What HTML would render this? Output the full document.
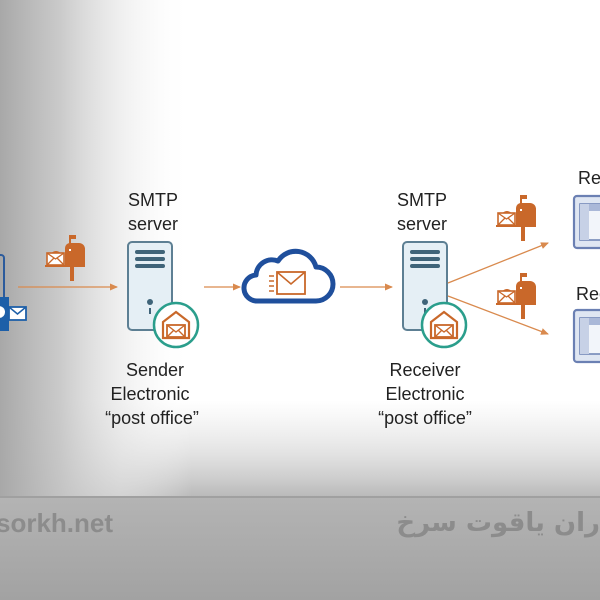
<!DOCTYPE html>
<html><head><meta charset="utf-8"><style>
html,body{margin:0;padding:0;width:600px;height:600px;overflow:hidden;background:#fff;position:relative}
svg{display:block}
text{font-family:"Liberation Sans","DejaVu Sans",sans-serif;fill:#222}
#ar{position:absolute;right:0;top:508px;font:bold 26px "DejaVu Sans",sans-serif;color:#8c8c8c;direction:rtl;white-space:nowrap}
</style></head><body>
<svg width="600" height="600" viewBox="0 0 600 600" xmlns="http://www.w3.org/2000/svg">
<defs>
<linearGradient id="lh" x1="0" x2="1" y1="0" y2="0">
<stop offset="0" stop-color="#a8a8a8"/><stop offset="0.1" stop-color="#c4c4c4" stop-opacity="0.9"/><stop offset="0.2" stop-color="#e4e4e4" stop-opacity="0.6"/><stop offset="0.32" stop-color="#fff" stop-opacity="0"/></linearGradient>
<linearGradient id="lv" x1="0" x2="0" y1="0" y2="1">
<stop offset="0" stop-color="#ddd" stop-opacity="0"/><stop offset="0.5" stop-color="#d6d6d6" stop-opacity="0.6"/><stop offset="1" stop-color="#bababa"/></linearGradient>
<linearGradient id="lb" x1="0" x2="0" y1="0" y2="1">
<stop offset="0" stop-color="#b4b4b4"/><stop offset="1" stop-color="#a2a2a2"/></linearGradient>
<marker id="arw" markerWidth="8" markerHeight="8" refX="7" refY="4" orient="auto" markerUnits="userSpaceOnUse">
<path d="M0,0.5 L8,4 L0,7.5 Z" fill="#d98a4e"/></marker>
<g id="mb">
<path d="M3,17 a6,6 0 0 1 12,0 Z" fill="#c9682a"/>
<rect x="0" y="13" width="17" height="12" fill="#fff" stroke="#c9682a" stroke-width="1.6"/>
<path d="M0,13 L8.5,19 L17,13 M0,25 L7,18 M17,25 L10,18" fill="none" stroke="#c9682a" stroke-width="1.3"/>
<rect x="-2" y="25" width="22" height="2" fill="#c9682a"/>
<path d="M18,8 a5,5 0 0 1 5,-5 H32 a6,6 0 0 1 6,6 V27 H18 Z" fill="#c9682a"/>
<rect x="22" y="-5" width="2" height="16" fill="#fff"/>
<rect x="22" y="-5" width="2" height="14" fill="#c9682a"/>
<rect x="24" y="-5" width="5" height="4" fill="#c9682a"/>
<rect x="23" y="27" width="4" height="14" fill="#c9682a"/>
</g>
<g id="srv">
<rect x="0" y="0" width="44" height="88" rx="4" fill="#e5eff5" stroke="#5d7f93" stroke-width="2"/>
<rect x="7" y="8" width="30" height="4" rx="2" fill="#3f6479"/>
<rect x="7" y="15" width="30" height="4" rx="2" fill="#3f6479"/>
<rect x="7" y="22" width="30" height="4" rx="2" fill="#3f6479"/>
<circle cx="22" cy="60" r="3" fill="#3f6479"/>
<rect x="21" y="66" width="2" height="6" fill="#3f6479"/>
</g>
<g id="badge">
<circle cx="0" cy="0" r="22" fill="#fff" stroke="#2b9e8c" stroke-width="2.5"/>
<path d="M-13,-3 L0,-13 L13,-3 V13 H-13 Z" fill="#fff" stroke="#c9682a" stroke-width="2.2"/>
<rect x="-9" y="0" width="18" height="12" fill="#fff" stroke="#c9682a" stroke-width="1.8"/>
<path d="M-9,0 L0,7 L9,0 M-9,12 L-2,5 M9,12 L2,5" fill="none" stroke="#c9682a" stroke-width="1.4"/>
</g>
<g id="mon">
<rect x="0" y="0" width="40" height="52" rx="3" fill="#dfe6f2" stroke="#6b80b3" stroke-width="2.2"/>
<rect x="6" y="8" width="40" height="36" fill="#f2f5fa" stroke="#6b80b3" stroke-width="1.5"/>
<rect x="6" y="8" width="40" height="7" fill="#aab8d8"/>
<rect x="6" y="8" width="9" height="36" fill="#c7d1e6"/>
</g>
</defs>
<rect width="600" height="600" fill="#fff"/>
<rect x="0" y="400" width="600" height="96" fill="url(#lv)"/>
<rect width="600" height="496" fill="url(#lh)"/>
<rect x="0" y="496" width="600" height="104" fill="url(#lb)"/>
<rect x="0" y="496" width="600" height="2" fill="#a0a0a0"/>

<rect x="-20" y="255" width="24" height="70" rx="3" fill="none" stroke="#2c5b9c" stroke-width="2"/>
<rect x="-5" y="297" width="14" height="34" fill="#1d5fa8"/>
<circle cx="-1" cy="312" r="6" fill="#fff"/>
<rect x="9" y="307" width="17" height="13" fill="#fff" stroke="#1d5fa8" stroke-width="1.8"/>
<path d="M9,307 L17.5,314 L26,307" fill="none" stroke="#1d5fa8" stroke-width="1.5"/>

<use href="#mb" x="47" y="240"/>
<line x1="18" y1="287" x2="117" y2="287" stroke="#d98a4e" stroke-width="1.3" marker-end="url(#arw)"/>

<text x="153" y="206" font-size="18" text-anchor="middle">SMTP</text>
<text x="153" y="230" font-size="18" text-anchor="middle">server</text>
<use href="#srv" x="128" y="242"/>
<use href="#badge" x="176" y="325"/>
<text x="155" y="376" font-size="18" text-anchor="middle">Sender</text>
<text x="150" y="400" font-size="18" text-anchor="middle">Electronic</text>
<text x="152" y="424" font-size="18" text-anchor="middle">“post office”</text>

<line x1="204" y1="287" x2="240" y2="287" stroke="#d98a4e" stroke-width="1.3" marker-end="url(#arw)"/>
<path d="M258,301 a13,13 0 0 1 -2,-26 a16,16 0 0 1 22,-14 a21,21 0 0 1 38,6 a17,17 0 0 1 0,34 Z" fill="#fff" stroke="#1f4f9c" stroke-width="5" stroke-linejoin="round"/>
<rect x="277" y="272" width="28" height="22" fill="#fff" stroke="#c9682a" stroke-width="1.8"/>
<path d="M277,272 L291,284 L305,272" fill="none" stroke="#c9682a" stroke-width="1.6"/>
<path d="M269,276 h5 M269,281 h5 M269,286 h5 M269,291 h5" stroke="#c9682a" stroke-width="1.4"/>

<line x1="340" y1="287" x2="392" y2="287" stroke="#d98a4e" stroke-width="1.3" marker-end="url(#arw)"/>

<text x="422" y="206" font-size="18" text-anchor="middle">SMTP</text>
<text x="422" y="230" font-size="18" text-anchor="middle">server</text>
<use href="#srv" x="403" y="242"/>
<use href="#badge" x="444" y="325"/>
<text x="425" y="376" font-size="18" text-anchor="middle">Receiver</text>
<text x="425" y="400" font-size="18" text-anchor="middle">Electronic</text>
<text x="425" y="424" font-size="18" text-anchor="middle">“post office”</text>

<line x1="448" y1="283" x2="548" y2="243" stroke="#d98a4e" stroke-width="1.3" marker-end="url(#arw)"/>
<line x1="448" y1="296" x2="548" y2="334" stroke="#d98a4e" stroke-width="1.3" marker-end="url(#arw)"/>
<use href="#mb" x="498" y="200"/>
<use href="#mb" x="498" y="278"/>

<text x="578" y="184" font-size="18">Re</text>
<use href="#mon" x="574" y="196"/>
<text x="576" y="300" font-size="18">Rec</text>
<use href="#mon" x="574" y="310"/>

<text x="-4" y="532" font-size="26" font-weight="bold" style="fill:#8c8c8c">sorkh.net</text>
</svg>
<div id="ar">ران یاقوت سرخ</div>
</body></html>
